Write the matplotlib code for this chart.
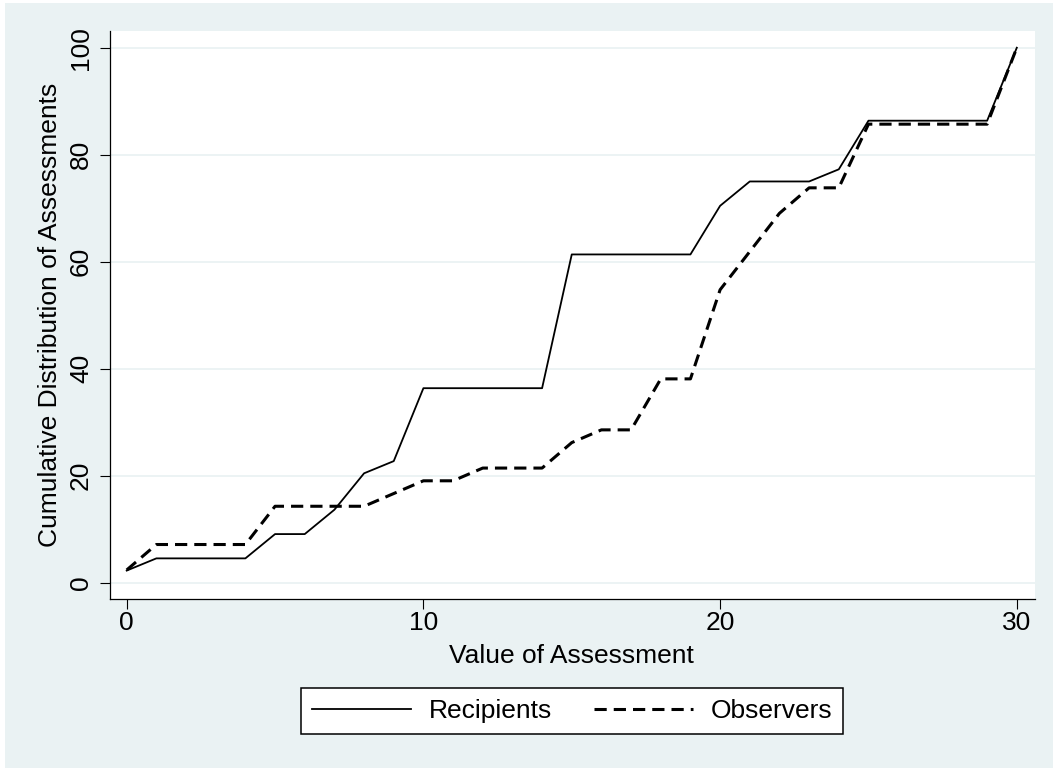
import matplotlib.pyplot as plt
from matplotlib.patches import Rectangle

# value of assessment (x) and cumulative shares in percent
values = list(range(31))
recipients = [2.27, 4.55, 4.55, 4.55, 4.55, 9.09, 9.09, 13.64, 20.45, 22.73,
              36.36, 36.36, 36.36, 36.36, 36.36, 61.36, 61.36, 61.36, 61.36, 61.36,
              70.45, 75.0, 75.0, 75.0, 77.27, 86.36, 86.36, 86.36, 86.36, 86.36, 100.0]
observers = [2.38, 7.14, 7.14, 7.14, 7.14, 14.29, 14.29, 14.29, 14.29, 16.67,
             19.05, 19.05, 21.43, 21.43, 21.43, 26.19, 28.57, 28.57, 38.10, 38.10,
             54.76, 61.90, 69.05, 73.81, 73.81, 85.71, 85.71, 85.71, 85.71, 85.71, 100.0]
x_ticks = [0, 10, 20, 30]
y_ticks = [0, 20, 40, 60, 80, 100]
series_names = ['Recipients', 'Observers']

W, H = 1053, 769
BG = '#eaf2f3'


def fx(px):
    return px / W


def fy(py):
    return 1 - py / H


def main():
    plt.rcParams['font.family'] = ['Liberation Sans', 'DejaVu Sans']
    fs = 19

    fig = plt.figure(figsize=(W / 100, H / 100), dpi=100, facecolor='white')
    # stata style graph region
    fig.patches.append(Rectangle((fx(5), fy(768)), 1 - fx(5), fy(3) - fy(768),
                                 transform=fig.transFigure, facecolor=BG,
                                 edgecolor='none', zorder=-10))

    ax = fig.add_axes([fx(110), fy(599.3), fx(1035) - fx(110), fy(30.7) - fy(599.3)])
    ax.set_facecolor('white')

    ax.plot(values, recipients, color='black', lw=1.3, label=series_names[0])
    ax.plot(values, observers, color='black', lw=2.2, dashes=(4.0, 2.3),
            label=series_names[1])

    ax.set_xlim(-0.563, 30.613)
    ax.set_ylim(-3.10, 103.18)
    ax.set_xticks(x_ticks)
    ax.set_yticks(y_ticks)
    ax.yaxis.grid(True, color=BG, lw=1.3)
    ax.set_axisbelow(True)

    for s in ['top', 'right']:
        ax.spines[s].set_visible(False)
    for s in ['left', 'bottom']:
        ax.spines[s].set_linewidth(0.9)
        ax.spines[s].set_color('black')

    ax.tick_params(axis='both', length=7.2, width=0.8, labelsize=fs, color='black')
    ax.tick_params(axis='x', pad=1.5)
    ax.tick_params(axis='y', pad=5)
    for lab in ax.get_yticklabels():
        lab.set_rotation(90)
        lab.set_va('center')
        lab.set_ha('right')

    fig.text(fx(571.7), fy(663), 'Value of Assessment', fontsize=fs,
             ha='center', va='baseline')
    fig.text(fx(56.7), fy(315), 'Cumulative Distribution of Assessments',
             fontsize=fs, rotation=90, rotation_mode='anchor',
             ha='center', va='baseline')

    leg = ax.legend(loc='center', bbox_to_anchor=(fx(572), fy(711)),
                    bbox_transform=fig.transFigure, ncol=2, fontsize=fs,
                    frameon=True, fancybox=False, framealpha=1,
                    edgecolor='black', handlelength=3.75, handletextpad=0.68,
                    columnspacing=1.6, borderpad=0.4)
    leg.get_frame().set_linewidth(1.1)

    fig.savefig('out.png', dpi=100, facecolor=fig.get_facecolor())


if __name__ == "__main__":
    main()
